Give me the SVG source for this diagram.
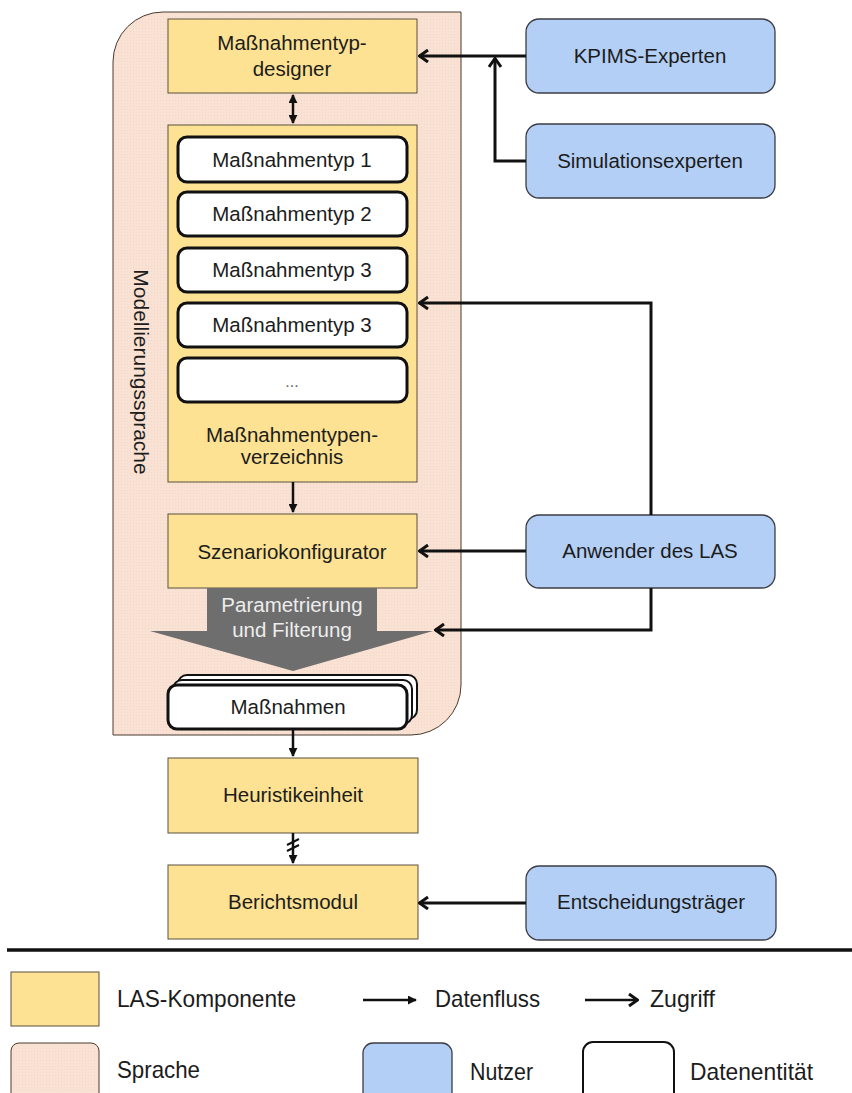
<svg xmlns="http://www.w3.org/2000/svg" width="852" height="1093" viewBox="0 0 852 1093">
<style>
text{font-family:"Liberation Sans",Arial,sans-serif;fill:#1c1c1c;font-size:20.5px}
.c{text-anchor:middle}
.comp{fill:#FDE293;stroke:#5a5040;stroke-width:1}
.user{fill:#B3CFF5;stroke:#3c3c44;stroke-width:1.3}
.ent{fill:#fff;stroke:#111;stroke-width:3}
.lang{fill:url(#dots);stroke:#4a3a30;stroke-width:1}
.acc{fill:none;stroke:#111;stroke-width:3;marker-end:url(#chev)}
.flow{fill:none;stroke:#111;stroke-width:2.5;marker-end:url(#tri)}
.leg{font-size:24px}
</style>
<defs>
<pattern id="dots" width="3" height="3" patternUnits="userSpaceOnUse">
<rect width="3" height="3" fill="#F9E2D3"/>
<rect x="1" y="1" width="1" height="1" fill="#F3D8C7"/>
</pattern>
<marker id="chev" viewBox="0 0 12 14" refX="11" refY="7" markerWidth="12" markerHeight="14" markerUnits="userSpaceOnUse" orient="auto">
<path d="M2,1 L10.5,7 L2,13" fill="none" stroke="#111" stroke-width="3"/>
</marker>
<marker id="tri" viewBox="0 0 10 10" refX="9" refY="5" markerWidth="9" markerHeight="9" markerUnits="userSpaceOnUse" orient="auto-start-reverse">
<path d="M0,0 L10,5 L0,10 Z" fill="#111"/>
</marker>
</defs>
<rect width="852" height="1093" fill="#fff"/>

<g id="sprache">
<path class="lang" d="M163,12 H461 V685 A50,50 0 0 1 411,735 H113 V62 A50,50 0 0 1 163,12 Z"/>
<text class="c" transform="translate(134,372) rotate(90)" style="font-size:21px">Modellierungssprache</text>
</g>

<g id="designer">
<rect class="comp" x="168" y="19" width="249" height="74"/>
<text class="c" x="292" y="50">Maßnahmentyp-</text>
<text class="c" x="292" y="76">designer</text>
</g>

<g id="verzeichnis">
<rect class="comp" x="168" y="125" width="249" height="357"/>
<text class="c" x="292" y="442">Maßnahmentypen-</text>
<text class="c" x="292" y="464">verzeichnis</text>
</g>
<g id="typ1"><rect class="ent" x="178" y="137" width="229" height="45" rx="9"/><text class="c" x="292" y="167">Maßnahmentyp 1</text></g>
<g id="typ2"><rect class="ent" x="178" y="192" width="229" height="44" rx="9"/><text class="c" x="292" y="221">Maßnahmentyp 2</text></g>
<g id="typ3a"><rect class="ent" x="178" y="248" width="229" height="44" rx="9"/><text class="c" x="292" y="277">Maßnahmentyp 3</text></g>
<g id="typ3b"><rect class="ent" x="178" y="303" width="229" height="44" rx="9"/><text class="c" x="292" y="332">Maßnahmentyp 3</text></g>
<g id="typdots"><rect class="ent" x="178" y="358" width="229" height="44" rx="9"/><text class="c" x="292" y="387" style="font-size:16px;fill:#666">...</text></g>

<g id="szenario">
<rect class="comp" x="168" y="514" width="249" height="74"/>
<text class="c" x="292" y="559">Szenariokonfigurator</text>
</g>

<g id="filter">
<polygon points="207,588 377,588 377,631 433,631 293,671 150,631 207,631" fill="#6E6E6E"/>
<text class="c" x="292" y="612" style="fill:#EDEDED">Parametrierung</text>
<text class="c" x="292" y="637" style="fill:#EDEDED">und Filterung</text>
</g>

<g id="massnahmen">
<rect class="ent" x="178" y="675" width="239" height="44" rx="9" style="stroke-width:2"/>
<rect class="ent" x="173" y="680" width="239" height="44" rx="9" style="stroke-width:2"/>
<rect class="ent" x="168" y="685" width="239" height="44" rx="9"/>
<text class="c" x="288" y="714">Maßnahmen</text>
</g>

<g id="heuristik">
<rect class="comp" x="168" y="758" width="250" height="75"/>
<text class="c" x="293" y="802">Heuristikeinheit</text>
</g>

<g id="bericht">
<rect class="comp" x="168" y="865" width="250" height="74"/>
<text class="c" x="293" y="909">Berichtsmodul</text>
</g>

<g id="kpims">
<rect class="user" x="526" y="19" width="249" height="74" rx="13"/>
<text class="c" x="650" y="63">KPIMS-Experten</text>
</g>
<g id="simulation">
<rect class="user" x="526" y="124" width="249" height="74" rx="13"/>
<text class="c" x="650" y="168">Simulationsexperten</text>
</g>
<g id="anwender">
<rect class="user" x="526" y="515" width="249" height="73" rx="13"/>
<text class="c" x="650" y="558">Anwender des LAS</text>
</g>
<g id="entscheider">
<rect class="user" x="526" y="866" width="250" height="74" rx="13"/>
<text class="c" x="651" y="909">Entscheidungsträger</text>
</g>

<g id="connectors">
<path class="acc" d="M526,56 H419"/>
<path class="acc" d="M526,161 H495 V58"/>
<path class="acc" d="M651,515 V303 H419"/>
<path class="acc" d="M526,551 H419"/>
<path class="acc" d="M651,588 V630 H435"/>
<path class="acc" d="M526,903 H419"/>
<path class="flow" d="M293,95 V123" style="marker-start:url(#tri)"/>
<path class="flow" d="M293,482 V512"/>
<path class="flow" d="M293,729 V756"/>
<path class="flow" d="M293,833 V863"/>
<path d="M287,845 L299,839 M287,851 L299,845" stroke="#111" stroke-width="2" fill="none"/>
</g>

<g id="legend">
<line x1="7" y1="950" x2="852" y2="950" stroke="#111" stroke-width="3.5"/>
<rect class="comp" x="11" y="972" width="88" height="54"/>
<text class="leg" x="117" y="1007" textLength="179" lengthAdjust="spacingAndGlyphs">LAS-Komponente</text>
<path class="flow" d="M363,1000 H416"/>
<text class="leg" x="435" y="1007" textLength="105" lengthAdjust="spacingAndGlyphs">Datenfluss</text>
<path class="acc" d="M585,1000 H638" style="stroke-width:2.5"/>
<text class="leg" x="650" y="1007" textLength="65" lengthAdjust="spacingAndGlyphs">Zugriff</text>
<rect class="lang" x="11" y="1043" width="88" height="60" rx="8"/>
<text class="leg" x="117" y="1078" textLength="83" lengthAdjust="spacingAndGlyphs">Sprache</text>
<rect class="user" x="363" y="1043" width="89" height="60" rx="10"/>
<text class="leg" x="470" y="1080" textLength="63" lengthAdjust="spacingAndGlyphs">Nutzer</text>
<rect class="ent" x="583" y="1042" width="91" height="60" rx="10" style="stroke-width:2"/>
<text class="leg" x="690" y="1080" textLength="123" lengthAdjust="spacingAndGlyphs">Datenentität</text>
</g>
</svg>
